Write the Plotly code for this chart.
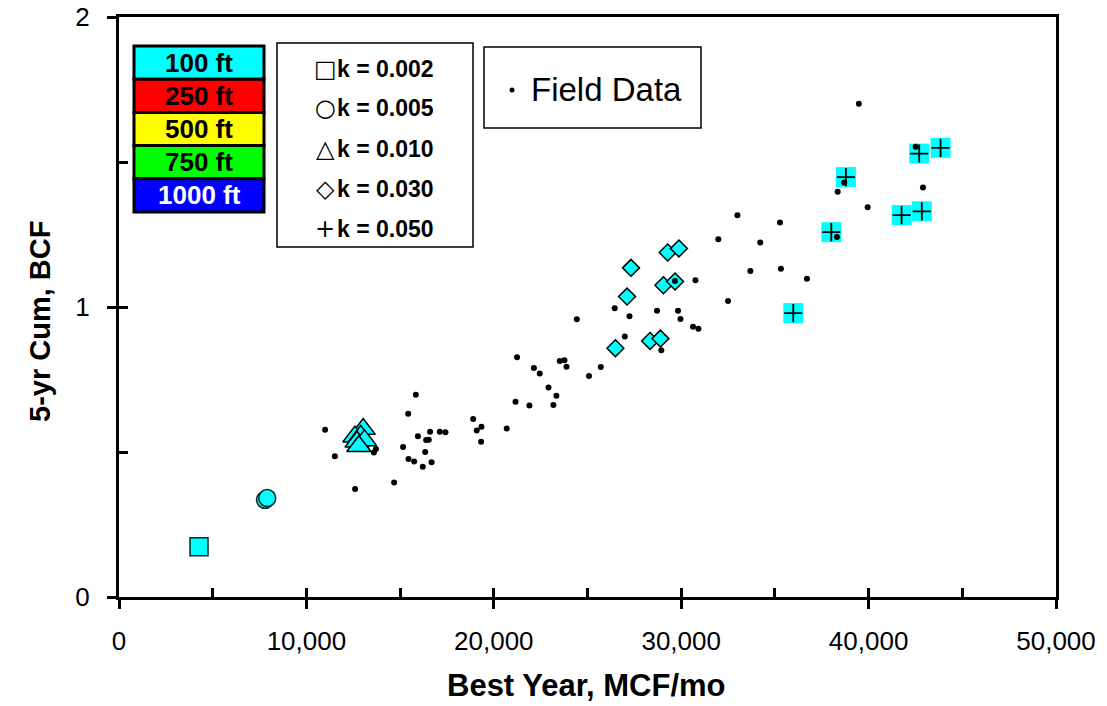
import plotly.graph_objects as go

# ---------------- data ----------------
field_x = [11000, 11520, 12600, 13710, 13600, 14680, 15160, 15430, 15840, 15450,
           15750, 15950, 16210, 16340, 16390, 16530, 16600, 16680, 17120, 17420,
           18900, 19090, 19340, 19320, 20690, 21160, 21240, 21900, 22140, 22450,
           22920, 23180, 23340, 23520, 23770, 23880, 25080, 25710, 24430, 26450,
           26990, 27240, 28710, 28940, 29670, 29830, 29960, 30630, 30920, 30760,
           31980, 32500, 33000, 33690, 34220, 35270, 35320, 36710, 38350, 38310,
           38700, 39480, 39950, 42510, 42900]
field_y = [0.577, 0.485, 0.372, 0.510, 0.498, 0.395, 0.517, 0.632, 0.697, 0.476,
           0.467, 0.554, 0.449, 0.500, 0.541, 0.542, 0.570, 0.465, 0.570, 0.568,
           0.614, 0.574, 0.587, 0.535, 0.581, 0.673, 0.827, 0.660, 0.790, 0.771,
           0.722, 0.662, 0.694, 0.814, 0.816, 0.794, 0.762, 0.793, 0.958, 0.996,
           0.898, 0.968, 0.987, 0.851, 1.090, 0.987, 0.959, 0.932, 0.925, 1.092,
           1.234, 1.021, 1.316, 1.124, 1.222, 1.291, 1.132, 1.097, 1.397, 1.241,
           1.429, 1.701, 1.344, 1.553, 1.412]

k002_x = [4270]
k002_y = [0.173]
k005_x = [7790, 7910]
k005_y = [0.335, 0.341]
k010_x = [13030, 12590, 12900, 12700, 13100, 12800]
k010_y = [0.579, 0.553, 0.555, 0.535, 0.540, 0.520]
k030_x = [27320, 27110, 26490, 28340, 28890, 29050, 29670, 29280, 29880]
k030_y = [1.135, 1.036, 0.858, 0.883, 0.891, 1.075, 1.088, 1.188, 1.202]
k050_x = [38790, 38010, 35980, 42700, 43840, 41760, 42840]
k050_y = [1.448, 1.258, 0.979, 1.529, 1.549, 1.317, 1.330]

spacing_labels = ["100 ft", "250 ft", "500 ft", "750 ft", "1000 ft"]
spacing_colors = ["#00FFFF", "#FF0000", "#FFFF00", "#00FF00", "#0000FF"]
spacing_text_colors = ["black", "black", "black", "black", "white"]
k_labels = ["k = 0.002", "k = 0.005", "k = 0.010", "k = 0.030", "k = 0.050"]
k_symbols = ["\u25A1", "\u25CB", "\u25B3", "\u25C7", "+"]

x_ticks = [0, 10000, 20000, 30000, 40000, 50000]
x_ticktext = ["0", "10,000", "20,000", "30,000", "40,000", "50,000"]

FONT = "Liberation Sans, Arial, sans-serif"
CYAN = "#00FFFF"

# ---------------- layout geometry (page pixels) ----------------
W, H = 1107, 706
L, R, T, B = 119, 1056, 17, 597


def px(x):
    return (x - L) / (R - L)


def py(y):
    return (B - y) / (B - T)


fig = go.Figure()

# model results (100 ft spacing, cyan)
fig.add_trace(go.Scatter(x=k002_x, y=k002_y, mode="markers", showlegend=False,
                         marker=dict(symbol="square", size=18, color=CYAN,
                                     line=dict(color="#0a2a2a", width=1.5))))
fig.add_trace(go.Scatter(x=k005_x, y=k005_y, mode="markers", showlegend=False,
                         marker=dict(symbol="circle", size=17, color=CYAN,
                                     line=dict(color="#0a2a2a", width=1.5))))
fig.add_trace(go.Scatter(x=k010_x, y=k010_y, mode="markers", showlegend=False,
                         marker=dict(symbol="triangle-up", size=21, color=CYAN,
                                     line=dict(color="black", width=1.5))))
fig.add_trace(go.Scatter(x=k030_x, y=k030_y, mode="markers", showlegend=False,
                         marker=dict(symbol="diamond", size=13, color=CYAN,
                                     line=dict(color="black", width=1.5))))
fig.add_trace(go.Scatter(x=k050_x, y=k050_y, mode="markers", showlegend=False,
                         marker=dict(symbol="square", size=20, color=CYAN,
                                     line=dict(width=0))))
fig.add_trace(go.Scatter(x=k050_x, y=k050_y, mode="markers", showlegend=False,
                         marker=dict(symbol="cross-thin", size=13, color="black",
                                     line=dict(color="black", width=1.8))))

# field data
fig.add_trace(go.Scatter(x=field_x, y=field_y, mode="markers", showlegend=False,
                         marker=dict(symbol="circle", size=6, color="black",
                                     line=dict(width=0))))

# empty trace to hold overlay axes for inside tick marks
fig.add_trace(go.Scatter(x=[None], y=[None], xaxis="x2", yaxis="y2",
                         showlegend=False, hoverinfo="skip"))

shapes = []
annotations = []

# spacing colour legend
box_l, box_r, box_t, box_b = 134, 264, 46, 212
cell_h = (box_b - box_t) / len(spacing_labels)
for i, (lab, col, tcol) in enumerate(zip(spacing_labels, spacing_colors, spacing_text_colors)):
    y0 = box_t + i * cell_h
    y1 = y0 + cell_h
    shapes.append(dict(type="rect", xref="paper", yref="paper",
                       x0=px(box_l), x1=px(box_r), y0=py(y0), y1=py(y1),
                       fillcolor=col, line=dict(color="black", width=3), layer="above"))
    annotations.append(dict(xref="paper", yref="paper", x=px((box_l + box_r) / 2),
                            y=py((y0 + y1) / 2), text="<b>%s</b>" % lab, showarrow=False,
                            xanchor="center", yanchor="middle",
                            font=dict(family=FONT, size=26, color=tcol)))

# k legend
shapes.append(dict(type="rect", xref="paper", yref="paper",
                   x0=px(277), x1=px(473), y0=py(43), y1=py(247),
                   fillcolor="white", line=dict(color="black", width=1.5), layer="above"))
k_rows = [69, 108, 149, 189, 229]
for sym, lab, yy in zip(k_symbols, k_labels, k_rows):
    annotations.append(dict(xref="paper", yref="paper", x=px(325), y=py(yy),
                            text=sym, showarrow=False, xanchor="center", yanchor="middle",
                            font=dict(family="DejaVu Sans", size=24, color="black")))
    annotations.append(dict(xref="paper", yref="paper", x=px(335), y=py(yy),
                            text="<b>%s</b>" % lab, showarrow=False, xanchor="left",
                            yanchor="middle",
                            font=dict(family=FONT, size=23, color="black")))

# field data legend
shapes.append(dict(type="rect", xref="paper", yref="paper",
                   x0=px(484), x1=px(701), y0=py(47), y1=py(128),
                   fillcolor="white", line=dict(color="black", width=1.5), layer="above"))
shapes.append(dict(type="circle", xref="paper", yref="paper",
                   x0=px(509.5), x1=px(514.5), y0=py(87.5), y1=py(92.5),
                   fillcolor="black", line=dict(width=0), layer="above"))
annotations.append(dict(xref="paper", yref="paper", x=px(529), y=py(90),
                        text="Field Data", showarrow=False, xanchor="left", yanchor="middle",
                        font=dict(family=FONT, size=33, color="black")))

# axis titles
annotations.append(dict(xref="paper", yref="paper", x=px(586), y=py(685),
                        text="<b>Best Year, MCF/mo</b>", showarrow=False,
                        xanchor="center", yanchor="middle",
                        font=dict(family=FONT, size=31, color="black")))
annotations.append(dict(xref="paper", yref="paper", x=px(40), y=py(322),
                        text="<b>5-yr Cum, BCF</b>", showarrow=False, textangle=-90,
                        xanchor="center", yanchor="middle",
                        font=dict(family=FONT, size=29, color="black")))

fig.update_layout(
    width=W, height=H,
    margin=dict(l=L, r=W - R, t=T, b=H - B, pad=0, autoexpand=False),
    paper_bgcolor="white", plot_bgcolor="white",
    showlegend=False,
    shapes=shapes, annotations=annotations,
    font=dict(family=FONT, color="black"),
    xaxis=dict(range=[0, 50000], tickvals=x_ticks, ticktext=x_ticktext,
               ticks="outside", ticklen=9, tickwidth=2.5, tickcolor="black",
               showline=True, linecolor="black", linewidth=3, mirror=True,
               showgrid=False, zeroline=False, ticklabelstandoff=10, automargin=False,
               ticklabeloverflow="allow",
               tickfont=dict(family=FONT, size=26, color="black")),
    yaxis=dict(range=[0, 2], tickvals=[0, 1, 2], ticktext=["0", "1", "2"],
               ticks="outside", ticklen=9, tickwidth=2.5, tickcolor="black",
               showline=True, linecolor="black", linewidth=3, mirror=True,
               showgrid=False, zeroline=False, ticklabelstandoff=12, automargin=False,
               ticklabeloverflow="allow",
               tickfont=dict(family=FONT, size=26, color="black")),
    xaxis2=dict(range=[0, 50000], overlaying="x", anchor="y", side="bottom",
                dtick=5000, tick0=0, ticks="inside", ticklen=9, tickwidth=2.5,
                tickcolor="black", showticklabels=False, showline=False,
                showgrid=False, zeroline=False, automargin=False),
    yaxis2=dict(range=[0, 2], overlaying="y", anchor="x", side="left",
                dtick=0.5, tick0=0, ticks="inside", ticklen=9, tickwidth=2.5,
                tickcolor="black", showticklabels=False, showline=False,
                showgrid=False, zeroline=False, automargin=False),
)

fig.write_html("out.html",
               config={"displayModeBar": False},
               post_script="document.body.style.margin='0px';")
